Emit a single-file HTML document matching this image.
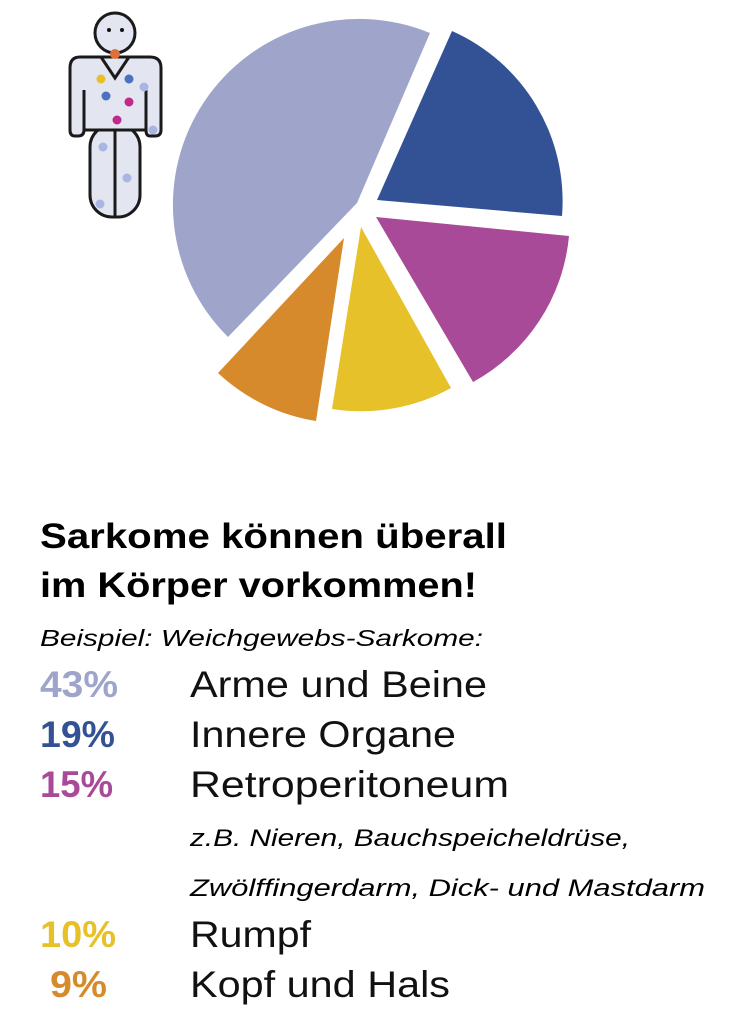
<!DOCTYPE html>
<html><head><meta charset="utf-8"><style>
html,body{margin:0;padding:0;background:#fff;}
svg{display:block;}
text{font-family:"Liberation Sans",sans-serif;}
</style></head><body>
<svg width="748" height="1033" viewBox="0 0 748 1033" xmlns="http://www.w3.org/2000/svg">
<!-- pie -->
<path d="M357,203 L228,337 A186,186 0 0 1 430,33 Z" fill="#9fa5ca"/>
<path d="M377,200 L452,31 A186,186 0 0 1 562,216 Z" fill="#335296"/>
<path d="M376,217 L569,236 A186,186 0 0 1 473,382 Z" fill="#a94a98"/>
<path d="M361,227 L451,388 A186,186 0 0 1 332,409 Z" fill="#e6c12a"/>
<path d="M344,238 L316,421 A186,186 0 0 1 218,373 Z" fill="#d68a2c"/>
<!-- figure -->
<g stroke="#1a1a1a" stroke-width="3" fill="#e3e5f1">
<rect x="90" y="125" width="50" height="92" rx="22"/>
<line x1="115" y1="130" x2="115" y2="217"/>
<path d="M80,57 L150,57 Q161,57 161,68 L161,130 Q161,136 155,136 L150,136 Q146,136 146,130 L146,90 L146,130 L84,130 L84,90 L84,130 Q84,136 78,136 L75,136 Q70,136 70,130 L70,68 Q70,57 80,57 Z"/>
<polyline points="101,57 115,78 129,57" fill="none"/>
<circle cx="115" cy="33" r="20"/>
</g>
<circle cx="109" cy="30" r="2" fill="#111"/><circle cx="122" cy="30" r="2" fill="#111"/>
<circle cx="115" cy="54" r="5" fill="#e0703a"/>
<circle cx="101" cy="79" r="4.5" fill="#e6c12a"/>
<circle cx="129" cy="79" r="4.5" fill="#4a72c0"/>
<circle cx="144" cy="87" r="4.5" fill="#a9b6e3"/>
<circle cx="106" cy="96" r="4.5" fill="#4a72c0"/>
<circle cx="129" cy="102" r="4.5" fill="#c0288a"/>
<circle cx="117" cy="120" r="4.5" fill="#c0288a"/>
<circle cx="153" cy="130" r="4.5" fill="#a9b6e3"/>
<circle cx="103" cy="147" r="4.5" fill="#a9b6e3"/>
<circle cx="127" cy="178" r="4.5" fill="#a9b6e3"/>
<circle cx="100" cy="204" r="4.5" fill="#a9b6e3"/>
<!-- text -->
<text x="40" y="548" font-size="35" font-weight="bold" fill="#000" textLength="467" lengthAdjust="spacingAndGlyphs">Sarkome können überall</text>
<text x="40" y="597" font-size="35" font-weight="bold" fill="#000" textLength="437" lengthAdjust="spacingAndGlyphs">im Körper vorkommen!</text>
<text x="40" y="646" font-size="23" font-style="italic" fill="#000" textLength="443" lengthAdjust="spacingAndGlyphs">Beispiel: Weichgewebs-Sarkome:</text>
<g font-size="37" font-weight="bold">
<text x="40" y="697" fill="#9fa5ca" textLength="78" lengthAdjust="spacingAndGlyphs">43%</text>
<text x="40" y="747" fill="#335296" textLength="75" lengthAdjust="spacingAndGlyphs">19%</text>
<text x="40" y="797" fill="#a94a98" textLength="73" lengthAdjust="spacingAndGlyphs">15%</text>
<text x="40" y="947" fill="#e6c12a" textLength="76" lengthAdjust="spacingAndGlyphs">10%</text>
<text x="50" y="997" fill="#d68a2c" textLength="57" lengthAdjust="spacingAndGlyphs">9%</text>
</g>
<g font-size="37" fill="#111">
<text x="190" y="697" textLength="297" lengthAdjust="spacingAndGlyphs">Arme und Beine</text>
<text x="190" y="747" textLength="266" lengthAdjust="spacingAndGlyphs">Innere Organe</text>
<text x="190" y="797" textLength="319" lengthAdjust="spacingAndGlyphs">Retroperitoneum</text>
<text x="190" y="947" textLength="121" lengthAdjust="spacingAndGlyphs">Rumpf</text>
<text x="190" y="997" textLength="260" lengthAdjust="spacingAndGlyphs">Kopf und Hals</text>
</g>
<g font-size="24" font-style="italic" fill="#000">
<text x="190" y="846" textLength="440" lengthAdjust="spacingAndGlyphs">z.B. Nieren, Bauchspeicheldrüse,</text>
<text x="190" y="896" textLength="515" lengthAdjust="spacingAndGlyphs">Zwölffingerdarm, Dick- und Mastdarm</text>
</g>
</svg>
</body></html>
